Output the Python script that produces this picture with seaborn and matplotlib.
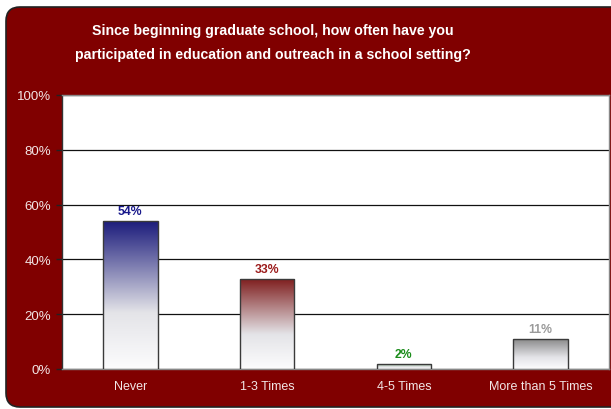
import numpy as np
import pandas as pd
import matplotlib
matplotlib.use("Agg")
import matplotlib.pyplot as plt
import seaborn as sns
from matplotlib.patches import FancyBboxPatch
from matplotlib.colors import LinearSegmentedColormap

categories = ["Never", "1-3 Times", "4-5 Times", "More than 5 Times"]
values = [54, 33, 2, 11]
value_labels = ["54%", "33%", "2%", "11%"]
yticks = [0, 20, 40, 60, 80, 100]
ytick_labels = ["0%", "20%", "40%", "60%", "80%", "100%"]
title = ("Since beginning graduate school, how often have you\n"
         "participated in education and outreach in a school setting?")

bar_top_colors = ["#1c1c7c", "#7e1c1c", "#6a9a6a", "#858585"]
label_colors = ["#1a1a8c", "#9c1c1c", "#1a8c1a", "#9a9a9a"]
maroon = "#800000"
tick_text = "#f2e6e6"

sns.set_theme(style="white")
plt.rcParams["font.family"] = ["Liberation Sans", "DejaVu Sans"]

W, H = 611, 410
fig = plt.figure(figsize=(W / 100, H / 100), dpi=100)
fig.patch.set_facecolor("white")

# rounded maroon panel behind everything (pixel coordinates)
panel = FancyBboxPatch((6, 2), 660, 400,
                       boxstyle="round,pad=0,rounding_size=14",
                       transform=None, facecolor=maroon,
                       edgecolor="#222222", linewidth=1.2, zorder=-10)
fig.patches.append(panel)

fig.text(273 / W, (H - 43) / H, title, ha="center", va="center", color="white",
         fontsize=10.2, fontweight="bold", linespacing=1.85, zorder=5)

ax = fig.add_axes([62 / W, 40 / H, (609 - 62) / W, (370 - 96) / H])
ax.set_zorder(2)
ax.set_facecolor("white")

df = pd.DataFrame({"category": categories, "value": values})
sns.barplot(data=df, x="category", y="value", ax=ax, width=0.4,
            color="white", edgecolor="#3a3a3a", linewidth=1.0, zorder=3)

# vertical gradient fill inside each bar, dark at the top fading to white
for patch, top in zip(ax.patches, bar_top_colors):
    x0, y0 = patch.get_x(), patch.get_y()
    w, h = patch.get_width(), patch.get_height()
    cmap = LinearSegmentedColormap.from_list(
        "g", [(0.0, "#fcfcfd"), (0.38, "#e4e4e8"), (1.0, top)])
    grad = np.linspace(0, 1, 256).reshape(-1, 1)
    im = ax.imshow(grad, cmap=cmap, aspect="auto", origin="lower",
                   extent=(x0, x0 + w, y0, y0 + h), zorder=3.5,
                   interpolation="bicubic")
    im.set_clip_path(patch)
    patch.set_facecolor("none")
    patch.set_zorder(4)

ax.set_xlim(-0.5, len(categories) - 0.5)
ax.set_ylim(0, 100)

for i, (v, lab, c) in enumerate(zip(values, value_labels, label_colors)):
    ax.text(i, v + 1.3, lab, ha="center", va="bottom", color=c,
            fontsize=8.8, fontweight="bold", zorder=5)

ax.set_yticks(yticks)
ax.set_yticklabels(ytick_labels, color=tick_text, fontsize=9.5)
ax.set_xticks(range(len(categories)))
ax.set_xticklabels(categories, color=tick_text, fontsize=9)
ax.set_xticks(np.arange(-0.5, len(categories), 1.0), minor=True)
ax.tick_params(axis="x", which="major", length=0, pad=8)
ax.tick_params(axis="x", which="minor", length=4, color="#222222", width=1, direction="out")
ax.tick_params(axis="y", length=4, color="#222222", width=1, direction="out", pad=4, left=True)
ax.set_xlabel("")
ax.set_ylabel("")

ax.yaxis.grid(True, color="#111111", linewidth=0.9, zorder=1)
ax.set_axisbelow(True)
for side, sp in ax.spines.items():
    sp.set_visible(True)
    sp.set_linewidth(1.0)
ax.spines["left"].set_color("#333333")
ax.spines["bottom"].set_color("#888888")
ax.spines["top"].set_color("#888888")
ax.spines["right"].set_color("#888888")

fig.savefig("out.png", dpi=100, facecolor=fig.get_facecolor())
